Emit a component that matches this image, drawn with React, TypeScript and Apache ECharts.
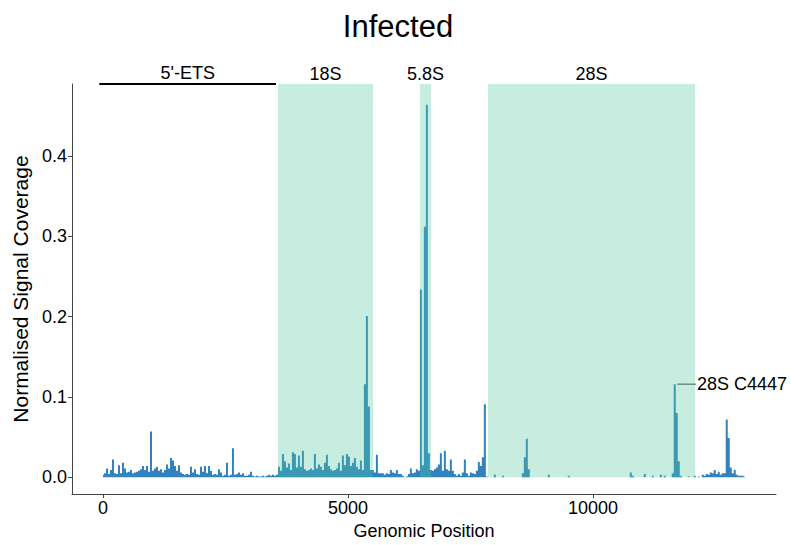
import React, { useEffect, useRef } from "react";
import * as echarts from "echarts";

// Coverage sampled on a regular grid of genomic positions (bin width in nt)
const binWidth = 40.8;
const coverage: number[] = [
  // 0-86 (5'-ETS)
  0.003, 0.005, 0.011, 0.004, 0.009, 0.022, 0.005, 0.004, 0.015, 0.005,
  0.018, 0.011, 0.006, 0.007, 0.009, 0.005, 0.006, 0.007, 0.008, 0.010,
  0.014, 0.009, 0.014, 0.007, 0.057, 0.008, 0.011, 0.013, 0.008, 0.010,
  0.006, 0.009, 0.016, 0.011, 0.024, 0.021, 0.014, 0.008, 0.015, 0.006,
  0.004, 0.003, 0.004, 0.003, 0.013, 0.006, 0.010, 0.004, 0.003, 0.013,
  0.007, 0.014, 0.005, 0.014, 0.008, 0.003, 0.004, 0.003, 0.010, 0.006,
  0.002, 0.003, 0.018, 0.002, 0.003, 0.036, 0.003, 0.004, 0.006, 0.003,
  0.005, 0.002, 0.002, 0.003, 0.007, 0.002, 0.001, 0.002, 0.001, 0.001,
  0.002, 0.001, 0.002, 0.003, 0.002, 0.003, 0.002,
  // 87-133 (18S)
  0.003, 0.013, 0.008, 0.029, 0.020, 0.012, 0.017, 0.009, 0.031, 0.029,
  0.012, 0.027, 0.013, 0.033, 0.010, 0.008, 0.009, 0.011, 0.009, 0.029,
  0.011, 0.016, 0.013, 0.009, 0.018, 0.028, 0.014, 0.010, 0.008, 0.009,
  0.011, 0.018, 0.008, 0.027, 0.015, 0.029, 0.026, 0.014, 0.018, 0.024,
  0.013, 0.010, 0.021, 0.009, 0.116, 0.201, 0.088,
  // 134-192 (ITS1, 5.8S, ITS2)
  0.009, 0.009, 0.006, 0.028, 0.005, 0.005, 0.005, 0.003, 0.005, 0.004,
  0.009, 0.006, 0.005, 0.009, 0.004, 0.004, 0.002, 0.000, 0.001, 0.004,
  0.011, 0.005, 0.006, 0.010, 0.008, 0.234, 0.015, 0.312, 0.464, 0.030,
  0.009, 0.008, 0.010, 0.012, 0.016, 0.030, 0.008, 0.033, 0.010, 0.008,
  0.022, 0.008, 0.004, 0.002, 0.004, 0.002, 0.006, 0.022, 0.005, 0.002,
  0.006, 0.005, 0.004, 0.008, 0.019, 0.014, 0.025, 0.091, 0.001,
  // 193-296 (28S)
  0.000, 0.000, 0.000, 0.003, 0.000, 0.000, 0.000, 0.002, 0.000, 0.000,
  0.000, 0.000, 0.000, 0.000, 0.000, 0.000, 0.000, 0.005, 0.025, 0.048,
  0.010, 0.000, 0.000, 0.000, 0.000, 0.000, 0.000, 0.000, 0.000, 0.000,
  0.003, 0.000, 0.000, 0.000, 0.000, 0.000, 0.000, 0.000, 0.000, 0.000,
  0.002, 0.000, 0.000, 0.000, 0.000, 0.000, 0.000, 0.000, 0.000, 0.000,
  0.000, 0.000, 0.000, 0.000, 0.000, 0.000, 0.000, 0.000, 0.000, 0.000,
  0.000, 0.000, 0.000, 0.000, 0.000, 0.000, 0.000, 0.000, 0.000, 0.000,
  0.000, 0.006, 0.002, 0.000, 0.000, 0.000, 0.000, 0.000, 0.004, 0.000,
  0.000, 0.000, 0.002, 0.000, 0.000, 0.000, 0.003, 0.000, 0.002, 0.000,
  0.000, 0.000, 0.005, 0.116, 0.080, 0.020, 0.002, 0.000, 0.000, 0.000,
  0.001, 0.000, 0.000, 0.002,
  // 297-321 (3' end)
  0.000, 0.001, 0.000, 0.003, 0.002, 0.004, 0.003, 0.006, 0.005, 0.009,
  0.004, 0.007, 0.003, 0.005, 0.005, 0.072, 0.049, 0.012, 0.005, 0.009,
  0.003, 0.002, 0.002, 0.002, 0.001,
];

const regionNames = ["18S", "5.8S", "28S"];
const regionStarts = [3571, 6469, 7857];
const regionEnds = [5510, 6694, 12082];

const etsName = "5'-ETS";
const etsStart = -75;
const etsEnd = 3530;

const peakLabel = "28S C4447";
const peakPos = [11720, 12100];
const peakValue = 0.116;

const xTicks = [0, 5000, 10000];
const yTicks = [0.0, 0.1, 0.2, 0.3, 0.4];

const X_MIN = -633;
const X_MAX = 13735;
const Y_MIN = -0.021;
const Y_MAX = 0.49;

export default function App() {
  const ref = useRef<HTMLDivElement>(null);

  useEffect(() => {
    if (!ref.current) return;
    const chart = echarts.init(ref.current, null, { renderer: "svg" });
    const font = "Liberation Sans, Arial, sans-serif";
    const covData = coverage.map((v, i) => [i * binWidth, v]);
    const lbl = { color: "#000", fontSize: 18, fontFamily: font };

    chart.setOption({
      animation: false,
      textStyle: { fontFamily: font },
      graphic: [
        {
          type: "text",
          x: 398,
          y: 26,
          style: {
            text: "Infected",
            fontSize: 31,
            fontFamily: font,
            fill: "#000",
            textAlign: "center",
            textVerticalAlign: "middle",
          },
        },
      ],
      grid: { left: 72, right: 15, top: 84, bottom: 46, containLabel: false },
      xAxis: {
        type: "value",
        min: X_MIN,
        max: X_MAX,
        name: "Genomic Position",
        nameLocation: "middle",
        nameGap: 25,
        nameTextStyle: { ...lbl },
        axisLine: { onZero: false, lineStyle: { color: "#444", width: 1 } },
        axisTick: { show: true, length: 4, customValues: xTicks, lineStyle: { color: "#444" } },
        axisLabel: { ...lbl, customValues: xTicks, margin: 5, formatter: (v: number) => String(v) },
        splitLine: { show: false },
      },
      yAxis: {
        type: "value",
        min: Y_MIN,
        max: Y_MAX,
        name: "Normalised Signal Coverage",
        nameLocation: "middle",
        nameGap: 38,
        nameTextStyle: { ...lbl, fontSize: 21 },
        axisLine: { show: true, onZero: false, lineStyle: { color: "#444", width: 1 } },
        axisTick: { show: true, length: 4, customValues: yTicks, lineStyle: { color: "#444" } },
        axisLabel: {
          ...lbl,
          customValues: yTicks,
          margin: 5,
          formatter: (v: number) => v.toFixed(1),
        },
        splitLine: { show: false },
      },
      series: [
        {
          type: "line",
          name: "coverage",
          data: covData,
          step: "middle",
          showSymbol: false,
          symbol: "none",
          z: 2,
          lineStyle: { color: "#3182bd", width: 0 },
          areaStyle: { color: "#3182bd", opacity: 1 },
          itemStyle: { color: "#3182bd" },
        },
        {
          type: "line",
          name: "regions",
          data: [],
          z: 5,
          markArea: {
            z: 10,
            silent: true,
            itemStyle: { color: "rgba(82,200,161,0.33)" },
            label: { ...lbl, show: true, position: "top", distance: 1 },
            data: regionNames.map((n, i) => [
              { name: n, xAxis: regionStarts[i], yAxis: 0 },
              { xAxis: regionEnds[i], yAxis: Y_MAX },
            ]),
          },
        },
        {
          type: "line",
          name: "ets",
          clip: false,
          symbol: "circle",
          symbolSize: 0,
          showSymbol: true,
          z: 6,
          lineStyle: { color: "#000", width: 2 },
          itemStyle: { color: "#000" },
          data: [
            { value: [etsStart, Y_MAX] },
            {
              value: [(etsStart + etsEnd) / 2, Y_MAX],
              label: { ...lbl, show: true, position: "top", distance: 2, formatter: etsName },
            },
            { value: [etsEnd, Y_MAX] },
          ],
        },
        {
          type: "line",
          name: "peak",
          clip: false,
          symbol: "circle",
          symbolSize: 0,
          showSymbol: true,
          z: 6,
          lineStyle: { color: "#333", width: 1 },
          itemStyle: { color: "#333" },
          data: [
            { value: [peakPos[0], peakValue] },
            {
              value: [peakPos[1], peakValue],
              label: { ...lbl, show: true, position: "right", distance: 1, formatter: peakLabel },
            },
          ],
        },
      ],
    });
    return () => chart.dispose();
  }, []);

  return (
    <div
      ref={ref}
      style={{ position: "fixed", left: 0, top: 0, width: 791, height: 545, background: "#fff" }}
    />
  );
}
